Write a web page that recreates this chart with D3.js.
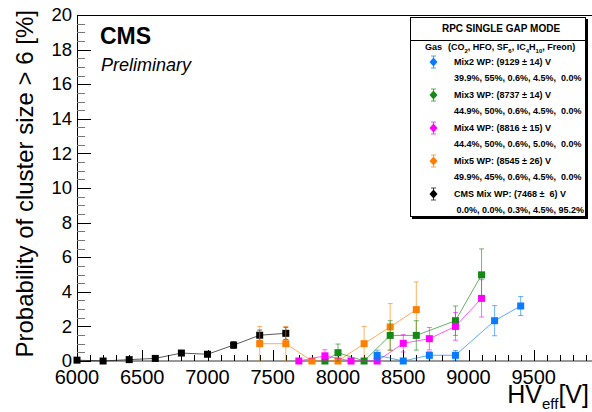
<!DOCTYPE html>
<html>
<head>
<meta charset="utf-8">
<script src="https://cdn.jsdelivr.net/npm/d3@7"></script>
<style>
  body { margin: 0; background: #fff; }
  svg { font-family: "Liberation Sans", Arial, Helvetica, sans-serif; }
  text { white-space: pre; }
</style>
</head>
<body>
<svg id="chart" width="592" height="412"></svg>
<script>
// data (HV in V, probability in %)
var mix2HV = [8300, 8500, 8700, 8900, 9200, 9400];
var mix2P  = [0.33, 0.0, 0.33, 0.33, 2.33, 3.18];
var mix2E  = [0.30, 0.05, 0.20, 0.28, 0.87, 0.55];

var mix3HV = [7900, 8000, 8200, 8400, 8600, 8900, 9100];
var mix3P  = [0.0, 0.48, 0.0, 1.48, 1.48, 2.33, 4.98];
var mix3E  = [0.02, 0.50, 0.02, 0.85, 0.85, 0.85, 1.50];

var mix4HV = [7700, 7900, 8100, 8300, 8500, 8700, 8900, 9100];
var mix4P  = [0.0, 0.30, 0.0, 0.0, 1.02, 1.29, 2.0, 3.62];
var mix4E  = [0.02, 0.35, 0.02, 0.02, 0.50, 0.65, 0.80, 1.08];

var mix5HV = [7400, 7600, 7800, 8000, 8200, 8400, 8600];
var mix5P  = [1.0, 1.0, 0.0, 0.0, 1.0, 1.97, 2.97];
var mix5E  = [1.0, 1.0, 0.02, 0.02, 1.0, 1.35, 1.60];

var cmsHV = [6000, 6200, 6400, 6600, 6800, 7000, 7200, 7400, 7600];
var cmsP  = [0.05, 0.0, 0.08, 0.15, 0.46, 0.39, 0.92, 1.49, 1.60];
var cmsE  = [0.05, 0.03, 0.05, 0.08, 0.12, 0.10, 0.20, 0.30, 0.35];

var xTicks = [6000, 6500, 7000, 7500, 8000, 8500, 9000, 9500];
var yTicks = [0, 2, 4, 6, 8, 10, 12, 14, 16, 18, 20];

var legendTitle = "RPC SINGLE GAP MODE";
var legendWP = ["Mix2 WP: (9129 \u00b1 14) V", "Mix3 WP: (8737 \u00b1 14) V",
                "Mix4 WP: (8816 \u00b1 15) V", "Mix5 WP: (8545 \u00b1 26) V",
                "CMS Mix WP: (7468 \u00b1  6) V"];
var legendGas = ["39.9%, 55%, 0.6%, 4.5%,  0.0%", "44.9%, 50%, 0.6%, 4.5%,  0.0%",
                 "44.4%, 50%, 0.6%, 5.0%,  0.0%", "49.9%, 45%, 0.6%, 4.5%,  0.0%",
                 " 0.0%, 0.0%, 0.3%, 4.5%, 95.2%"];

var series = [
  {hv: cmsHV,  p: cmsP,  e: cmsE,  color: "#000000"},
  {hv: mix5HV, p: mix5P, e: mix5E, color: "#ff8000"},
  {hv: mix3HV, p: mix3P, e: mix3E, color: "#138a13"},
  {hv: mix4HV, p: mix4P, e: mix4E, color: "#ff00ff"},
  {hv: mix2HV, p: mix2P, e: mix2E, color: "#0a7aff"}
];
var legendColors = ["#0a7aff", "#138a13", "#ff00ff", "#ff8000", "#000000"];

var svg = d3.select("#chart");
var plotL = 77, plotT = 15, plotB = 361, plotR = 599;

var x = d3.scaleLinear().domain([6000, 10000]).range([plotL, plotR]);
var y = d3.scaleLinear().domain([0, 20]).range([plotB, plotT]);

// frame: top + left lines, gray bottom axis line
svg.append("line").attr("x1", plotL).attr("x2", plotR).attr("y1", plotT + 0.5).attr("y2", plotT + 0.5)
    .attr("stroke", "#000");
svg.append("line").attr("x1", plotL + 0.5).attr("x2", plotL + 0.5).attr("y1", plotT).attr("y2", plotB)
    .attr("stroke", "#000");
svg.append("line").attr("x1", plotL).attr("x2", plotR).attr("y1", plotB).attr("y2", plotB)
    .attr("stroke", "#999").attr("stroke-width", 2);

// y ticks
svg.append("g").selectAll("line").data(d3.range(0, 20.01, 0.5)).join("line")
    .attr("x1", plotL).attr("x2", function(d) { return plotL + (d % 2 === 0 ? 14 : 8); })
    .attr("y1", function(d) { return Math.round(y(d)) + 0.5; })
    .attr("y2", function(d) { return Math.round(y(d)) + 0.5; })
    .attr("stroke", function(d) { return d % 2 === 0 ? "#000" : "#777"; });

svg.append("g").selectAll("text").data(yTicks).join("text")
    .attr("x", 72).attr("y", function(d) { return y(d); })
    .attr("dy", "0.34em").attr("text-anchor", "end")
    .attr("font-size", 18.5).text(function(d) { return d; });

// x ticks
svg.append("g").selectAll("line").data(d3.range(6100, 10000, 100)).join("line")
    .attr("x1", function(d) { return Math.round(x(d)) + 0.5; })
    .attr("x2", function(d) { return Math.round(x(d)) + 0.5; })
    .attr("y1", plotB).attr("y2", function(d) { return plotB - (d % 500 === 0 ? 11 : 6); })
    .attr("stroke", "#000");

svg.append("g").selectAll("text").data(xTicks).join("text")
    .attr("x", function(d) { return x(d); }).attr("y", 384)
    .attr("text-anchor", "middle").attr("font-size", 20)
    .text(function(d) { return d; });

// axis titles
var xt = svg.append("text").attr("x", 589).attr("y", 403).attr("text-anchor", "end")
    .attr("font-size", 25);
xt.append("tspan").text("HV");
xt.append("tspan").attr("font-size", 15).attr("dy", 6).text("eff");
xt.append("tspan").attr("dy", -6).text("[V]");

svg.append("text").attr("transform", "translate(33,10) rotate(-90)")
    .attr("text-anchor", "end").attr("font-size", 24)
    .text("Probability of cluster size > 6 [%]");

svg.append("text").attr("x", 100).attr("y", 43.5).attr("font-size", 23)
    .attr("font-weight", "bold").text("CMS");
svg.append("text").attr("x", 101).attr("y", 71).attr("font-size", 18)
    .attr("font-style", "italic").text("Preliminary");

// graphs
var line = d3.line()
    .x(function(d) { return x(d.hv); })
    .y(function(d) { return y(d.p); });

series.forEach(function(s) {
  var pts = s.hv.map(function(v, i) { return {hv: v, p: s.p[i], e: s.e[i]}; });
  var g = svg.append("g");
  g.append("path").datum(pts).attr("d", line)
      .attr("fill", "none").attr("stroke", s.color).attr("stroke-opacity", 0.65)
      .attr("stroke-width", 1);
  var eb = g.append("g").attr("stroke", s.color).attr("stroke-opacity", 0.6);
  eb.selectAll("line.v").data(pts).join("line")
      .attr("x1", function(d) { return x(d.hv); }).attr("x2", function(d) { return x(d.hv); })
      .attr("y1", function(d) { return y(Math.max(0, d.p - d.e)); })
      .attr("y2", function(d) { return y(d.p + d.e); });
  [1, -1].forEach(function(sg) {
    eb.selectAll("line.c" + sg).data(pts.filter(function(d) { return d.e > 0.1; })).join("line")
        .attr("x1", function(d) { return x(d.hv) - 2.5; }).attr("x2", function(d) { return x(d.hv) + 2.5; })
        .attr("y1", function(d) { return y(Math.max(0, d.p + sg * d.e)); })
        .attr("y2", function(d) { return y(Math.max(0, d.p + sg * d.e)); });
  });
  g.selectAll("rect").data(pts).join("rect")
      .attr("x", function(d) { return x(d.hv) - 3.5; })
      .attr("y", function(d) { return y(d.p) - 3.5; })
      .attr("width", 7).attr("height", 7)
      .attr("fill", s.color);
});

// legend
var lg = svg.append("g");
lg.append("rect").attr("x", 412).attr("y", 19).attr("width", 176).attr("height", 200)
    .attr("fill", "#000");
lg.append("rect").attr("x", 410.5).attr("y", 17.5).attr("width", 175).attr("height", 199)
    .attr("fill", "#fff").attr("stroke", "#000");
lg.append("line").attr("x1", 410.5).attr("x2", 585.5).attr("y1", 40.5).attr("y2", 40.5)
    .attr("stroke", "#000");
lg.append("text").attr("x", 501).attr("y", 32).attr("text-anchor", "middle")
    .attr("font-size", 10).attr("font-weight", "bold").text(legendTitle);

lg.append("text").attr("x", 425).attr("y", 50).attr("font-size", 9)
    .attr("font-weight", "bold").text("Gas");
var gas = lg.append("text").attr("x", 448).attr("y", 50).attr("font-size", 9)
    .attr("font-weight", "bold");
var lastSub = false;
[["(CO", false], ["2", true], [", HFO, SF", false], ["6", true], [", IC", false], ["4", true],
 ["H", false], ["10", true], [", Freon)", false]].forEach(function(p) {
  var dy = p[1] ? 2.5 : (lastSub ? -2.5 : 0);
  gas.append("tspan").attr("font-size", p[1] ? 6 : 9).attr("dy", dy).text(p[0]);
  lastSub = p[1];
});

var rowY = [62, 95, 128, 161, 194];
rowY.forEach(function(ry, i) {
  var c = legendColors[i];
  lg.append("line").attr("x1", 433.5).attr("x2", 433.5).attr("y1", ry - 6).attr("y2", ry + 6)
      .attr("stroke", c).attr("stroke-opacity", 0.7);
  lg.append("line").attr("x1", 431).attr("x2", 436).attr("y1", ry - 6).attr("y2", ry - 6)
      .attr("stroke", c).attr("stroke-opacity", 0.7);
  lg.append("line").attr("x1", 431).attr("x2", 436).attr("y1", ry + 6).attr("y2", ry + 6)
      .attr("stroke", c).attr("stroke-opacity", 0.7);
  lg.append("path")
      .attr("d", "M" + 433.5 + "," + (ry - 4.5) + "l4,4.5l-4,4.5l-4,-4.5z")
      .attr("fill", c);
  lg.append("text").attr("x", 454).attr("y", ry + 3).attr("font-size", 9)
      .attr("font-weight", "bold").text(legendWP[i]);
  lg.append("text").attr("x", 454).attr("y", ry + 19).attr("font-size", 9)
      .attr("font-weight", "bold").text(legendGas[i]);
});
</script>
</body>
</html>
